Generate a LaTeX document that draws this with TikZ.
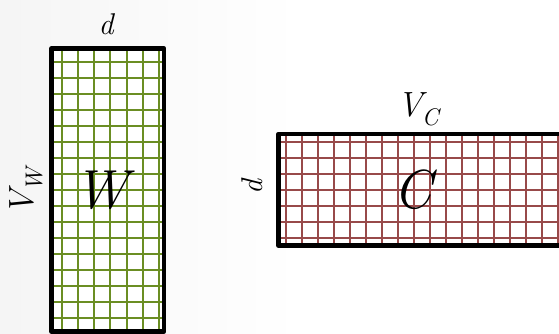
\documentclass[tikz,border=0pt]{standalone}
\definecolor{gridgreen}{RGB}{107,142,35}
\definecolor{gridred}{RGB}{152,74,74}
\tikzset{
  gridline/.style={line width=2pt},
  matbox/.style={line width=4.6pt, line join=round, draw=black},
  lab/.style={inner sep=0pt, outer sep=0pt, font=\itshape},
}
\newcommand{\subtxt}[1]{\raisebox{-0.25em}{\fontsize{24}{26}\selectfont\itshape #1}}
\begin{document}
\begin{tikzpicture}[x=1pt,y=-1pt]
\useasboundingbox (0,0) rectangle (559,334);
\clip (0,0) rectangle (559,334);
% background
\fill[white] (0,0) rectangle (559,334);
\shade[left color=black!4, right color=white] (0,0) rectangle (300,334);
% W matrix
\fill[white] (51.3,48.5) rectangle (164,331.5);
\foreach \i in {0,...,6} \draw[gridline, gridgreen] (61.7+16.25*\i,48.5) -- (61.7+16.25*\i,331.5);
\foreach \j in {0,...,16} \draw[gridline, gridgreen] (51.3,61.7+16.04*\j) -- (164,61.7+16.04*\j);
\draw[matbox] (51.3,48.5) rectangle (164,331.5);
% C matrix
\fill[white] (278.5,134) rectangle (570,245.5);
\foreach \i in {0,...,17} \draw[gridline, gridred] (286+16.02*\i,134) -- (286+16.02*\i,245.5);
\foreach \j in {0,...,6} \draw[gridline, gridred] (278.5,141.7+16.1*\j) -- (570,141.7+16.1*\j);
\draw[matbox] (278.5,134) rectangle (570,245.5);
% labels
\node[lab] (dW) at (106,24) {\fontsize{30}{34}\selectfont d};
\node[lab, rotate=90] (VW) at (26,192) {\fontsize{35}{40}\selectfont V\kern-1pt\subtxt{W}};
\node[lab] (W) at (101,190) {\fontsize{55}{60}\selectfont W};
\node[lab] (VC) at (418,109) {\fontsize{35}{40}\selectfont V\kern-1pt\subtxt{C}};
\node[lab, rotate=90] (dC) at (252,187) {\fontsize{30}{34}\selectfont d};
\node[lab] (C) at (413,190) {\fontsize{55}{60}\selectfont C};
\end{tikzpicture}
\end{document}
